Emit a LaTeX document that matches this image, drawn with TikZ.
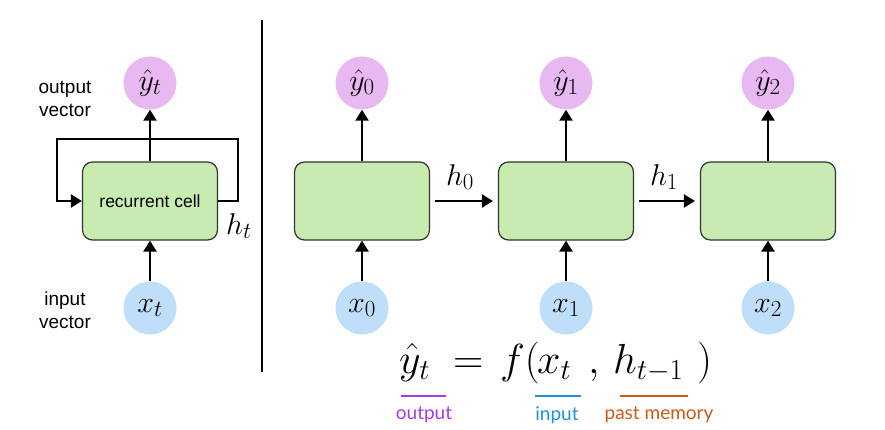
\RequirePackage{fix-cm}
\documentclass[tikz,border=0pt]{standalone}
\usepackage{fontspec}
\setmainfont{Liberation Sans}
\newfontfamily\labfont{Lato}
\DeclareMathSizes{30}{30}{23}{17}
\DeclareMathSizes{42}{42}{29}{22}
\usetikzlibrary{arrows.meta}
\definecolor{cellgreen}{RGB}{200,235,178}
\definecolor{ypurple}{RGB}{232,184,242}
\definecolor{xblue}{RGB}{190,222,250}
\definecolor{tpurple}{RGB}{165,60,225}
\definecolor{tblue}{RGB}{30,145,225}
\definecolor{torange}{RGB}{205,90,25}
\begin{document}
\begin{tikzpicture}[x=1pt,y=-1pt,
  cellbox/.style={draw=black!80,line width=1.2pt,fill=cellgreen,rounded corners=10pt,minimum width=135pt,minimum height=78pt,inner sep=0pt},
  ycirc/.style={circle,fill=ypurple,minimum size=53pt,inner sep=0pt,font=\fontsize{30}{34}\selectfont},
  xcirc/.style={circle,fill=xblue,minimum size=53pt,inner sep=0pt,font=\fontsize{30}{34}\selectfont},
  conn/.style={line width=2.4pt,-{Triangle[length=11pt,width=13pt]}},
  sidelab/.style={align=center,font=\fontsize{19}{23}\selectfont,inner sep=0pt},
  mathlab/.style={font=\fontsize{30}{34}\selectfont,inner sep=0pt},
  eqpart/.style={font=\fontsize{42}{46}\selectfont,inner sep=0pt,anchor=base west},
  eqlab/.style={font=\labfont\fontsize{19}{22}\selectfont,inner sep=0pt}]
\useasboundingbox[fill=white] (0,0) rectangle (885,430);
% left folded cell
\node[cellbox,font=\fontsize{17.5}{20}\selectfont] (cell) at (150,201) {recurrent cell};
\node[ycirc] (yt) at (150,83) {$\hat{y}_t$};
\node[xcirc] (xt) at (150,308) {$x_t$};
\node[sidelab] (outlab) at (65,99) {output\\vector};
\node[sidelab] (inlab) at (65,310) {input\\vector};
\node[mathlab] (ht) at (239,226) {$h_t$};
\draw[conn] (xt) -- (cell);
\draw[conn] (cell) -- (yt);
\coordinate (lr) at (238,201);
\coordinate (tr) at (238,139);
\coordinate (tl) at (57,139);
\coordinate (bl) at (57,201);
\draw[conn] (cell.east) -- (lr) -- (tr) -- (tl) -- (bl) -- (cell.west);
% divider
\coordinate (d1) at (262,20);
\coordinate (d2) at (262,372);
\draw[line width=1.6pt] (d1) -- (d2);
% unrolled
\foreach \i/\xx in {0/362,1/566,2/768}{
  \node[cellbox] (c\i) at (\xx,201) {};
  \node[ycirc] (y\i) at (\xx,83) {$\hat{y}_{\i}$};
  \node[xcirc] (x\i) at (\xx,308) {$x_{\i}$};
  \draw[conn] (x\i) -- (c\i);
  \draw[conn] (c\i) -- (y\i);
}
\draw[conn,shorten <=5pt,shorten >=5pt] (c0) -- (c1);
\draw[conn,shorten <=5pt,shorten >=5pt] (c1) -- (c2);
\node[mathlab] (h0) at (460,177) {$h_0$};
\node[mathlab] (h1) at (664,177) {$h_1$};
% equation
\node[eqpart] (e1) at (399,373) {$\hat{y}_t$};
\node[eqpart] (e2) at (453,373) {$=$};
\node[eqpart] (e3) at (500,373) {$f($};
\node[eqpart] (e4) at (537,373) {$x_t$};
\node[eqpart] (e5) at (588,373) {$,$};
\node[eqpart] (e6) at (613,373) {$h_{t-1}$};
\node[eqpart] (e7) at (697,373) {$)$};
\coordinate (u1a) at (401,396); \coordinate (u1b) at (446,396);
\coordinate (u2a) at (535,396); \coordinate (u2b) at (581,396);
\coordinate (u3a) at (620,396); \coordinate (u3b) at (688,396);
\draw[tpurple,line width=2.6pt] (u1a) -- (u1b);
\draw[tblue,line width=2.6pt] (u2a) -- (u2b);
\draw[torange,line width=2.6pt] (u3a) -- (u3b);
\node[eqlab,text=tpurple] (l1) at (424,415) {output};
\node[eqlab,text=tblue] (l2) at (557,415) {input};
\node[eqlab,text=torange] (l3) at (659,415) {past memory};
\end{tikzpicture}
\end{document}
